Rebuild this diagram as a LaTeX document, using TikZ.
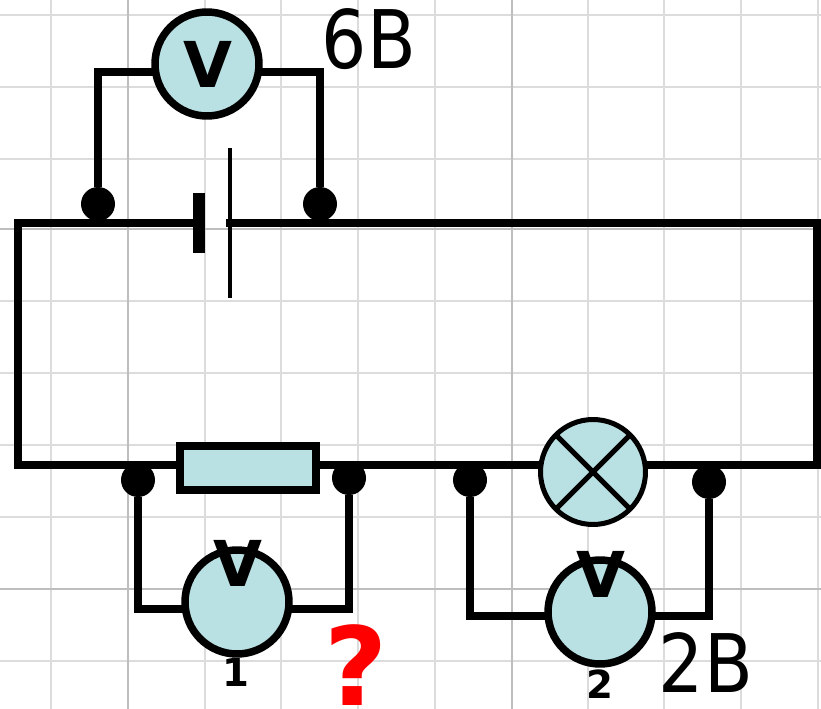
\documentclass[tikz,border=0pt]{standalone}
\usepackage{fontspec}
\setmainfont{DejaVu Sans}
\newfontfamily\voltfont[FakeStretch=0.88]{DejaVu Sans}
\definecolor{meterfill}{HTML}{B9E0E3}
\definecolor{gridlight}{HTML}{DCDCDC}
\definecolor{griddark}{HTML}{BEBEBE}
\tikzset{
  wire/.style={line width=0.16cm,line join=miter},
  meter/.style={circle,draw,fill=meterfill,line width=0.15cm,minimum size=2.08cm,inner sep=0pt,outer sep=0pt},
  lamp/.style={circle,draw,fill=meterfill,line width=0.1cm,minimum size=2.1cm,inner sep=0pt,outer sep=0pt},
  resistor/.style={rectangle,draw,fill=meterfill,line width=0.16cm,minimum width=2.72cm,minimum height=0.9cm,inner sep=0pt,outer sep=0pt},
  contact/.style={circle,fill=black,minimum size=0.68cm,inner sep=0pt,outer sep=0pt},
  metersign/.style={font=\fontsize{36}{36}\selectfont\bfseries,inner sep=0pt},
  meterindex/.style={font=\fontsize{22}{22}\selectfont\bfseries,inner sep=0pt},
  voltage/.style={font=\fontsize{46}{46}\selectfont\voltfont,inner sep=0pt}
}
\begin{document}
\begin{tikzpicture}[x=0.02cm,y=-0.02cm]
      \useasboundingbox (0,0) rectangle (821,709);
      \foreach \gx in {51,205,281,358,435,588,664,741,818}
        \draw[gridlight,line width=0.04cm] (\gx,0) -- (\gx,709);
      \foreach \gy in {15,87,159,301,373,445,517,661}
        \draw[gridlight,line width=0.04cm] (0,\gy) -- (821,\gy);
      \foreach \gx in {128,512}
        \draw[griddark,line width=0.04cm] (\gx,0) -- (\gx,709);
      \foreach \gy in {229,589}
        \draw[griddark,line width=0.04cm] (0,\gy) -- (821,\gy);
      \coordinate (topleft) at (18,223);
      \coordinate (topright) at (817,223);
      \coordinate (lowleft) at (18,465);
      \coordinate (lowright) at (817,465);
      \coordinate (batleft) at (205,223);
      \coordinate (batright) at (226,223);
      \coordinate (m0left) at (98,72);
      \coordinate (m0right) at (320,72);
      \coordinate (m1left) at (138,609);
      \coordinate (m1right) at (349,609);
      \coordinate (m2left) at (470,616);
      \coordinate (m2right) at (709,616);
      \node[resistor] (res) at (248,468) {};
      \node[lamp] (lamp) at (593,472) {};
      \node[meter] (m0) at (207,64) {};
      \node[meter] (m1) at (237,602) {};
      \node[meter] (m2) at (600,612) {};
      \node[contact] (c1) at (98,204) {};
      \node[contact] (c2) at (320,204) {};
      \node[contact] (c3) at (138,480) {};
      \node[contact] (c4) at (349,478) {};
      \node[contact] (c5) at (470,480) {};
      \node[contact] (c6) at (709,482) {};
      \node[rectangle,fill=black,minimum width=0.24cm,minimum height=1.2cm,inner sep=0pt] (platelong) at (199,223) {};
      \node[rectangle,fill=black,minimum width=0.08cm,minimum height=3cm,inner sep=0pt] (plateshort) at (229.5,223) {};
      \begin{scope}[wire]
        \draw (batleft) -- (topleft) -- (lowleft) -- (res.west |- lowleft);
        \draw (batright) -- (topright) -- (lowright) -- (lamp.east |- lowright);
        \draw (res.east |- lowleft) -- (lamp.west |- lowleft);
        \draw (c1) -- (m0left) -- (m0.west |- m0left);
        \draw (c2) -- (m0right) -- (m0.east |- m0right);
        \draw (c3) -- (m1left) -- (m1.west |- m1left);
        \draw (c4) -- (m1right) -- (m1.east |- m1right);
        \draw (c5) -- (m2left) -- (m2.west |- m2left);
        \draw (c6) -- (m2right) -- (m2.east |- m2right);
      \end{scope}
      \draw[line width=0.1cm] (lamp.north west) -- (lamp.south east);
      \draw[line width=0.1cm] (lamp.north east) -- (lamp.south west);
      \node[metersign] (v0) at (208,64) {V};
      \node[metersign] (v1) at (238,563) {V};
      \node[metersign] (v2) at (601,574) {V};
      \node[meterindex] (n1) at (236,672) {1};
      \node[meterindex] (n2) at (600,684) {2};
      \node[voltage] (u0) at (369,39) {6B};
      \node[voltage] (u2) at (706,663) {2B};
      \node[font=\fontsize{62}{62}\selectfont\bfseries,text=red,inner sep=0pt] (unknown) at (356,665) {?};
    \end{tikzpicture}
\end{document}
